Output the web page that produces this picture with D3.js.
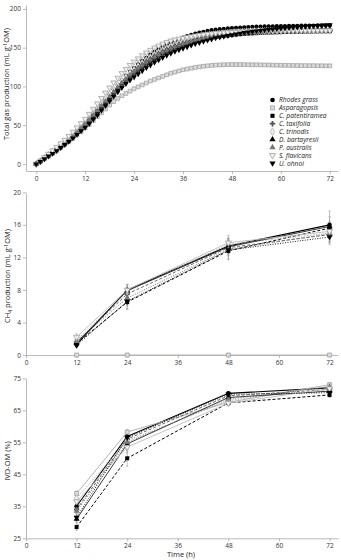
<!DOCTYPE html>
<html>
<head>
<meta charset="utf-8" />
<script src="https://d3js.org/d3.v7.min.js"></script>
<style>
  body { margin: 0; background: #fff; }
  text { font-family: "Open Sans", "Liberation Sans", sans-serif; }
</style>
</head>
<body>
<svg id="chart" width="341" height="560"></svg>
<script>
// ---- data ----
var species = ["Rhodes grass", "Asparagopsis", "C. patentiramea", "C. taxifolia", "C. trinodis",
               "D. bartayresii", "P. australis", "S. flavicans", "U. ohnoi"];

var hours = [0,1,2,3,4,5,6,7,8,9,10,11,12,13,14,15,16,17,18,19,20,21,22,23,24,25,26,27,28,29,30,
  31,32,33,34,35,36,37,38,39,40,41,42,43,44,45,46,47,48,49,50,51,52,53,54,55,56,57,58,59,60,
  61,62,63,64,65,66,67,68,69,70,71,72];

// total gas (mL/g OM), hourly readings
var gasRhodes = [0,3.5,7.5,11.5,15.5,19.5,23.5,28,32.5,37,42,47,52,58,64,70,76.5,83,89.5,96,102,108,114,119,124,128.5,133,137,141,144.5,148,151,154,156.5,159,161,163,165,166.5,168,169.5,170.5,171.5,172.5,173.2,173.8,174.3,174.8,175.2,175.6,176,176.3,176.6,176.8,177,177.2,177.4,177.5,177.6,177.7,177.8,177.9,178,178.1,178.2,178.3,178.4,178.5,178.5,178.6,178.6,178.7,178.7];
var gasAspara = [0,3,6.5,10,13.5,17,21,25,29,33,37.5,42,46.5,51,56,61,66,71,76,80.5,84.5,88,91,94,97,99.5,102,104.5,107,109,111,113,115,117,118.5,120,121.5,122.5,123.5,124.5,125.3,126,126.6,127.1,127.5,127.8,128,128.1,128.2,128.2,128.2,128.1,128,128,127.9,127.8,127.7,127.6,127.5,127.4,127.3,127.2,127.1,127,127,126.9,126.9,126.8,126.8,126.7,126.7,126.6,126.6];
var gasPatent = [0,3,7,10.5,14,18,22,26,30,34.5,39,44,49,54,59.5,65,71,77,83,89,95,100.5,105.5,110.5,115,119.5,124,128,131.5,135,138,141,143.5,146,148.5,150.5,152.5,154.5,156,157.5,159,160.3,161.5,162.5,163.5,164.3,165,165.6,166.2,166.7,167.2,167.6,168,168.3,168.6,168.9,169.1,169.3,169.5,169.7,169.9,170,170.1,170.2,170.3,170.4,170.5,170.6,170.7,170.8,170.9,171,171];
var gasTaxi = [0,3.5,7,11,14.5,18.5,22.5,26.5,31,35.5,40,45,50,55.5,61,67,73,79,85,91,96.5,102,107,112,116.5,121,125.5,129.5,133,136.5,139.5,142.5,145,147.5,150,152,154,156,157.5,159,160.5,161.7,162.8,163.8,164.7,165.5,166.2,166.8,167.3,167.8,168.2,168.6,169,169.3,169.6,169.9,170.1,170.3,170.5,170.7,170.9,171,171.1,171.2,171.3,171.4,171.5,171.6,171.7,171.8,171.9,172,172];
var gasTrino = [0,3.5,8,12,16,20,24.5,29,33.5,38.5,43.5,48.5,54,60,66,72,78,84,90,96,102,107.5,112.5,117.5,122,126.5,130.5,134.5,138,141.5,144.5,147.5,150,152.5,154.5,156.5,158.5,160,161.5,163,164,165,166,166.8,167.5,168.1,168.6,169.1,169.5,169.9,170.2,170.5,170.8,171,171.2,171.4,171.5,171.6,171.7,171.8,171.9,172,172.1,172.2,172.2,172.3,172.3,172.4,172.4,172.5,172.5,172.5,172.6];
var gasDicty = [0,3.5,7.5,11.5,15,19,23,27,31.5,36,41,46,51,56.5,62,68,74,80,86,92,98,104,109,114,119,123.5,128,132,135.5,139,142,145,147.5,150,152,154,156,158,159.5,161,162.5,163.5,164.5,165.5,166.5,167,167.5,168,168.5,169,169.5,170,170.3,170.6,171,171.2,171.5,171.7,172,172.2,172.4,172.6,172.8,173,173.1,173.2,173.3,173.4,173.5,173.6,173.7,173.8,173.9];
var gasPadina = [0,3.5,7.5,11,15,19,23,27.5,32,36.5,41.5,46.5,51.5,57,63,69,75,81,87,93,99,104.5,109.5,114.5,119,123.5,127.5,131.5,135,138.5,141.5,144.5,147,149.5,151.5,153.5,155.5,157.5,159,160.5,161.8,163,164,164.9,165.7,166.4,167,167.5,168,168.4,168.8,169.2,169.6,169.9,170.2,170.5,170.8,171,171.2,171.4,171.6,171.8,172,172.1,172.2,172.3,172.4,172.5,172.6,172.7,172.8,172.9,173];
var gasSarga = [0,4,8.5,13,17.5,22,26.5,31,36,41.5,47,52.5,58,64.5,71,78,85,92,98.5,105,111,117,122.5,127.5,132,136,140,143.5,147,150,152.5,155,157,159,160.5,161.5,162.5,163.5,164.5,165.5,166.3,167,167.6,168.2,168.7,169.1,169.5,169.8,170.1,170.3,170.5,170.7,170.9,171,171.1,171.2,171.3,171.4,171.5,171.6,171.7,171.7,171.8,171.8,171.9,171.9,172,172,172,172.1,172.1,172.1,172.2];
var gasUlva = [0,3,6.5,10,13.5,17,21,25,29,33.5,38,42.5,47,52,57.5,63,69,75,81,87,93,98.5,103.5,108,112,116,120,124,127.5,131,134,137,140,142.5,145,147,149,151,153,155,156.5,158,159.5,161,162.5,163.5,164.5,165.5,166.5,167.5,168.5,169.3,170,170.7,171.4,172,172.6,173.2,173.7,174.2,174.7,175.2,175.6,176,176.4,176.8,177.2,177.6,178,178.3,178.6,178.9,179.2];

// CH4 and IVD-OM sampled at 12, 24, 48, 72 h
var sampleHours = [12, 24, 48, 72];
var ch4Mean = [
  [1.3, 8.0, 13.4, 16.0],
  [0, 0, 0, 0],
  [1.4, 6.5, 12.8, 15.6],
  [1.6, 7.5, 13.2, 14.8],
  [1.8, 7.8, 13.6, 15.0],
  [1.5, 7.9, 13.3, 15.8],
  [1.7, 7.0, 13.0, 14.9],
  [2.2, 8.0, 13.8, 15.2],
  [1.2, 6.6, 12.9, 14.5]
];
var ch4Se = [
  [0.3, 0.6, 0.9, 1.7],
  [0, 0, 0, 0],
  [0.3, 0.8, 1.0, 0.8],
  [0.3, 0.6, 0.7, 0.9],
  [0.4, 0.5, 0.8, 1.0],
  [0.3, 0.7, 0.9, 1.2],
  [0.3, 0.9, 0.8, 1.1],
  [0.4, 0.7, 0.9, 0.9],
  [0.3, 1.0, 1.2, 0.9]
];
var ivdMean = [
  [35.0, 56.8, 70.3, 72.0],
  [39.0, 58.2, 67.5, 73.0],
  [28.5, 50.0, 67.3, 69.8],
  [34.0, 56.0, 69.5, 71.5],
  [37.5, 55.5, 68.0, 72.5],
  [31.0, 54.5, 69.0, 71.0],
  [33.5, 55.0, 68.5, 72.3],
  [36.5, 53.5, 67.2, 71.8],
  [31.5, 56.5, 70.0, 70.5]
];
var ivdSe = [
  [1.0, 1.0, 0.6, 0.7],
  [0.8, 0.8, 0.7, 0.6],
  [1.0, 2.5, 0.8, 0.8],
  [1.2, 1.2, 0.7, 0.7],
  [1.5, 1.5, 0.8, 0.7],
  [1.2, 1.6, 0.7, 0.8],
  [1.3, 1.4, 0.8, 0.7],
  [1.4, 1.8, 0.8, 0.8],
  [1.2, 1.3, 0.6, 0.8]
];

var xTicks = [0, 12, 24, 36, 48, 60, 72];
var gasTicks = [0, 50, 100, 150, 200];
var ch4Ticks = [0, 4, 8, 12, 16, 20];
var ivdTicks = [25, 35, 45, 55, 65, 75];

// ---- styles per species ----
var gasSeries = [gasRhodes, gasAspara, gasPatent, gasTaxi, gasTrino, gasDicty, gasPadina, gasSarga, gasUlva];
var sym = [
  {type: d3.symbolCircle, fill: "#000", stroke: "none", rot: 0},
  {type: d3.symbolSquare, fill: "#dcdcdc", stroke: "#9a9a9a", rot: 0},
  {type: d3.symbolSquare, fill: "#000", stroke: "none", rot: 0},
  {type: d3.symbolCross, fill: "#555", stroke: "none", rot: 0},
  {type: d3.symbolDiamond, fill: "#eee", stroke: "#aaa", rot: 0},
  {type: d3.symbolTriangle, fill: "#000", stroke: "none", rot: 0},
  {type: d3.symbolTriangle, fill: "#777", stroke: "none", rot: 0},
  {type: d3.symbolTriangle, fill: "#eee", stroke: "#999", rot: 180},
  {type: d3.symbolTriangle, fill: "#000", stroke: "none", rot: 180}
];
var lineSty = [
  {c: "#000", w: 1.1, d: null},
  {c: "#aaa", w: 0.9, d: null},
  {c: "#000", w: 1, d: "3,2"},
  {c: "#555", w: 0.9, d: "3,2"},
  {c: "#aaa", w: 0.9, d: "1.5,1.5"},
  {c: "#222", w: 0.9, d: null},
  {c: "#666", w: 0.9, d: "1,1.5"},
  {c: "#bbb", w: 0.9, d: null},
  {c: "#000", w: 0.9, d: "1,1.5"}
];

var svg = d3.select("#chart");
var axisCol = "#aaa";

function styleAxis(g) {
  g.select(".domain").attr("stroke", axisCol).attr("stroke-width", 0.8);
  g.selectAll(".tick line").attr("stroke", axisCol).attr("stroke-width", 0.8);
  g.selectAll(".tick text").attr("fill", "#333").style("font-size", "6.5px");
}

function drawSym(g, i, x, y, size) {
  var s = sym[i];
  g.append("path")
    .attr("d", d3.symbol().type(s.type).size(size)())
    .attr("transform", "translate(" + x + "," + y + ") rotate(" + s.rot + ")")
    .attr("fill", s.fill)
    .attr("stroke", s.stroke)
    .attr("stroke-width", 0.7);
}

function yTitle(x, y, parts) {
  var t = svg.append("text")
    .attr("transform", "translate(" + x + "," + y + ") rotate(-90)")
    .attr("text-anchor", "middle")
    .attr("fill", "#222")
    .style("font-size", "7.5px");
  parts.forEach(function(p) {
    var ts = t.append("tspan").text(p.t);
    if (p.sup) ts.attr("dy", -2.5).style("font-size", "5px");
    if (p.sub) ts.attr("dy", 1.8).style("font-size", "5px");
    if (p.back) ts.attr("dy", p.back);
  });
}

// ---- panel 1: total gas ----
var x1 = d3.scaleLinear().domain([-2.5, 74]).range([26, 338]);
var y1 = d3.scaleLinear().domain([-9, 205]).range([171, 5]);

svg.append("g").attr("transform", "translate(0,171)")
  .call(d3.axisBottom(x1).tickValues(xTicks).tickSize(3).tickSizeOuter(0).tickPadding(2))
  .call(styleAxis);
svg.append("g").attr("transform", "translate(26,0)")
  .call(d3.axisLeft(y1).tickValues(gasTicks).tickSize(3).tickSizeOuter(0).tickPadding(2))
  .call(styleAxis);

var p1 = svg.append("g");
gasSeries.forEach(function(vals, i) {
  var g = p1.append("g");
  vals.forEach(function(v, k) {
    drawSym(g, i, x1(hours[k]), y1(v), i == 3 ? 16 : 14);
  });
});

yTitle(9, 84, [{t: "Total gas production (mL g"}, {t: "-1", sup: true}, {t: "OM)", back: 2.5}]);

// legend
var leg = svg.append("g");
species.forEach(function(s, i) {
  var ly = 100 + i * 7.9;
  drawSym(leg, i, 272.5, ly, 17);
  leg.append("text").attr("x", 279).attr("y", ly + 2.3)
    .attr("fill", "#222").style("font-size", "6.7px").style("font-style", "italic")
    .text(s);
});

// ---- panels 2 and 3 ----
var x2 = d3.scaleLinear().domain([0, 74]).range([26, 338]);

function linePanel(yScale, ticks, axisY, means, ses) {
  svg.append("g").attr("transform", "translate(0," + axisY + ")")
    .call(d3.axisBottom(x2).tickValues(xTicks).tickSize(3).tickSizeOuter(0).tickPadding(2))
    .call(styleAxis);
  svg.append("g").attr("transform", "translate(26,0)")
    .call(d3.axisLeft(yScale).tickValues(ticks).tickSize(3).tickSizeOuter(0).tickPadding(2))
    .call(styleAxis);

  var g = svg.append("g");
  var line = d3.line().x(function(d) { return x2(d[0]); }).y(function(d) { return yScale(d[1]); });

  // error bars
  means.forEach(function(m, i) {
    m.forEach(function(v, k) {
      var e = ses[i][k];
      if (!e) return;
      var xx = x2(sampleHours[k]);
      g.append("line").attr("x1", xx).attr("x2", xx)
        .attr("y1", yScale(v - e)).attr("y2", yScale(v + e))
        .attr("stroke", "#999").attr("stroke-width", 0.6);
      [v - e, v + e].forEach(function(c) {
        g.append("line").attr("x1", xx - 1.2).attr("x2", xx + 1.2)
          .attr("y1", yScale(c)).attr("y2", yScale(c))
          .attr("stroke", "#999").attr("stroke-width", 0.6);
      });
    });
  });
  // lines
  means.forEach(function(m, i) {
    var ls = lineSty[i];
    g.append("path")
      .attr("d", line(m.map(function(v, k) { return [sampleHours[k], v]; })))
      .attr("fill", "none").attr("stroke", ls.c).attr("stroke-width", ls.w)
      .attr("stroke-dasharray", ls.d);
  });
  // markers
  means.forEach(function(m, i) {
    m.forEach(function(v, k) {
      drawSym(g, i, x2(sampleHours[k]), yScale(v), 16);
    });
  });
}

var y2 = d3.scaleLinear().domain([0, 20]).range([355, 192.3]);
linePanel(y2, ch4Ticks, 355, ch4Mean, ch4Se);
yTitle(10, 276, [{t: "CH"}, {t: "4", sub: true}, {t: " production (mL g", back: -1.8}, {t: "-1", sup: true}, {t: "OM)", back: 2.5}]);

var y3 = d3.scaleLinear().domain([25, 75]).range([538.3, 378.3]);
linePanel(y3, ivdTicks, 538.3, ivdMean, ivdSe);
yTitle(10, 461, [{t: "IVD-OM (%)"}]);

svg.append("text").attr("x", 181).attr("y", 557).attr("text-anchor", "middle")
  .attr("fill", "#222").style("font-size", "7.5px").text("Time (h)");
</script>
</body>
</html>
